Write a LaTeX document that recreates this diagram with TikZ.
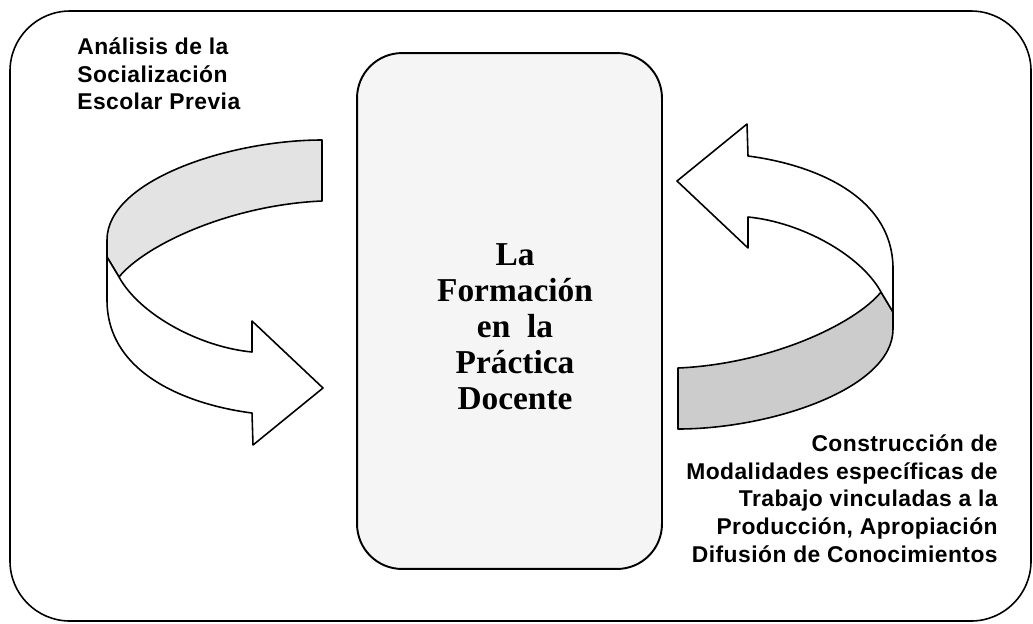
\documentclass[tikz,border=0pt]{standalone}
\usepackage{fontspec}
\setmainfont{Liberation Serif}
\newfontfamily\labelfont[LetterSpace=2]{Liberation Sans}

\begin{document}
\begin{tikzpicture}[x=0.02cm, y=-0.02cm, line join=round]
  \tikzset{
    frame/.style={draw, line width=0.9pt, rounded corners=1.2cm},
    core/.style={draw, line width=1.1pt, rounded corners=0.9cm, fill=gray!8, minimum width=6.1cm, minimum height=10.32cm},
    side/.style={font=\labelfont\bfseries\fontsize{13}{15.9}\selectfont, inner sep=0pt},
    ribbon/.style={draw, line width=0.9pt}
  }
  \useasboundingbox (0,0) rectangle (1033,623);
  \draw[frame] (10,11) rectangle (1031,621);

  % central box
  \node[core] (practica) at (509.5,311) {};
  \node[font=\bfseries\fontsize{19}{20.5}\selectfont, align=center] (titulo) at (515,327) {La\\Formación\\en~~la\\Práctica\\Docente};

  % curved arrows, the second one turned half round
  \foreach \ang/\tone in {0/gray!22, 180/gray!40} {
    \begin{scope}[rotate around={\ang:(500,284.5)}]
      \draw[ribbon, fill=\tone] (322,140) .. controls (230,140) and (107,180) .. (107,240) -- (107,257) -- (119,277) .. controls (145,245) and (230,205) .. (322,201) -- cycle;
      \draw[ribbon, fill=white] (107,257) -- (107,300) .. controls (107,375) and (190,405) .. (252,413) -- (253,445) -- (323,388) -- (252,321) -- (252,352) .. controls (200,347) and (140,315) .. (119,277) -- cycle;
    \end{scope}
  }

  \node[side, anchor=north west, align=left] (previa) at (77,37) {Análisis de la\\Socialización\\Escolar Previa};
  \node[side, anchor=north east, align=right] (saberes) at (998,434) {Construcción de\\Modalidades específicas de\\Trabajo vinculadas a la\\Producción, Apropiación\\Difusión de Conocimientos};
\end{tikzpicture}
\end{document}
